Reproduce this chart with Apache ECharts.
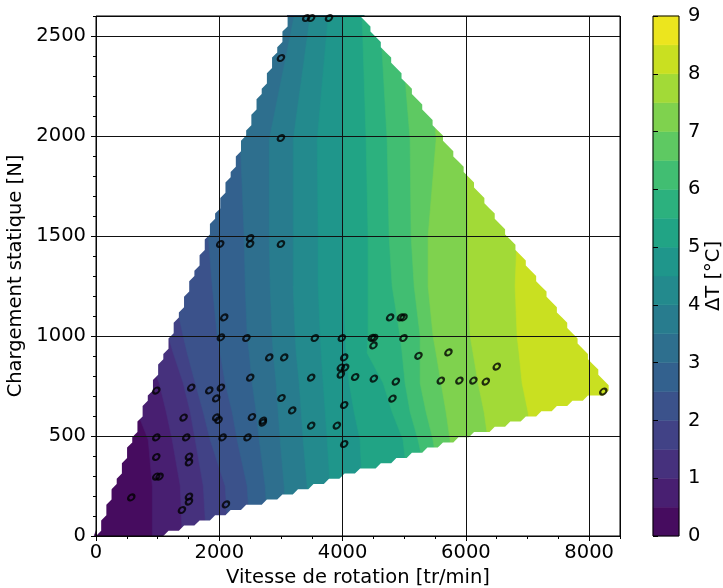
<!DOCTYPE html>
<html><head><meta charset="utf-8">
<script src="https://cdn.jsdelivr.net/npm/echarts@6/dist/echarts.min.js"></script>
<style>html,body{margin:0;padding:0;background:#fff}#c{width:723px;height:588px}</style>
</head><body><div id="c"></div>
<script>
// ---- data ----
const speedX = [3410,3490,3780,3000,3000,2015,2500,2500,3000,2080,2026,2440,3550,3988,4475,4512,4501,4988,4771,4945,4988,5231,2810,3053,4026,3972,4042,3972,2502,3491,4204,4507,4864,3009,4809,3183,4026,2529,2707,2707,3491,3907,2458,4026,5717,6501,5593,5895,6122,6323,8229,978,1545,1837,2026,1950,1421,1950,1988,978,1464,2053,978,1508,1508,978,1031,572,1508,1508,1394,2108];
const loadY  = [2590,2590,2590,2390,1990,1460,1490,1460,1460,1093,993,990,990,990,991,991,953,990,1093,1093,1093,901,893,893,893,842,842,807,792,792,795,787,772,690,687,628,655,595,577,567,552,552,493,460,918,847,777,777,777,772,722,727,742,728,742,688,592,593,580,493,493,493,395,397,368,297,297,193,197,172,130,158];
const levels = [0,0.5,1,1.5,2,2.5,3,3.5,4,4.5,5,5.5,6,6.5,7,7.5,8,8.5,9];
const isoLevels = [0.5,1,1.5,2,2.5,3,3.5,4,4.5,5,5.5,6,6.5,7,7.5,8];
// iso-line positions: speed (x) of each level line at these loads (y)
const isoY = [0,250,480,620,765,915,1000,1250,1500,1980,2600];
const isoX = [
 [913,913,848,670,459,199,70,-255,-579,-903,-1389],
 [1399,1367,1237,1140,1026,816,718,394,70,-417,-1065],
 [1788,1740,1610,1529,1415,1253,1172,880,556,70,-741],
 [2145,2096,1853,1740,1610,1480,1415,1237,1042,556,-255],
 [2502,2453,2291,2210,2096,2015,1967,1886,1821,1529,880],
 [2793,2745,2648,2599,2534,2485,2453,2421,2404,2340,2015],
 [3102,3053,2988,2956,2923,2875,2858,2826,2810,2810,3215],
 [3474,3426,3361,3329,3296,3248,3231,3199,3199,3199,3474],
 [3847,3799,3750,3718,3685,3653,3637,3604,3604,3588,3766],
 [4317,4317,4285,4188,4107,4058,4042,4010,4010,3993,4010],
 [5096,5063,4982,4804,4658,4399,4414,4414,4414,4382,4317],
 [5420,5388,5225,5096,5014,4966,4933,4804,4755,4723,4609],
 [5582,5582,5468,5355,5258,5258,5258,5161,5112,5096,4933],
 [5825,5793,5744,5679,5598,5517,5468,5388,5388,5517,5420],
 [6393,6393,6361,6296,6199,6117,6069,6036,6036,6020,5906],
 [7123,7123,7074,7009,6912,6863,6831,6799,6831,6880,6880]
];
const hullX = [-30, 1110, 8400, 4350, 3100];
const hullY = [0, 0, 718, 2600, 2600];
// interpolation grid step (data units) that produces the stair-stepped edge
const gridStepX = 84, gridStepY = 26;

// ---- helpers ----
const FONT = 'DejaVu Sans';
const viridisStops = ["#440154","#481568","#482677","#453781","#3F4788","#39558C","#32648E","#2D718E","#287D8E","#238A8D","#1F968B","#20A386","#29AF7F","#3CBC75","#56C667","#75D054","#95D840","#BADE28","#DDE318","#FDE725"];
function hex(c){return [parseInt(c.slice(1,3),16),parseInt(c.slice(3,5),16),parseInt(c.slice(5,7),16)];}
function viridis(t){
  t=Math.max(0,Math.min(1,t));
  const p=t*(viridisStops.length-1), i=Math.min(Math.floor(p),viridisStops.length-2), f=p-i;
  const a=hex(viridisStops[i]), b=hex(viridisStops[i+1]);
  return 'rgb('+a.map((v,k)=>Math.round(v+(b[k]-v)*f)).join(',')+')';
}
const nBands = levels.length-1;
function bandColor(k){ return viridis((k+0.5)/nBands); }

const hull = hullX.map((x,i)=>[x,hullY[i]]);
function insideHull(p){
  for(let i=0;i<hull.length;i++){
    const a=hull[i], b=hull[(i+1)%hull.length];
    const ex=(b[0]-a[0])/8500, ey=(b[1]-a[1])/2600, px=(p[0]-a[0])/8500, py=(p[1]-a[1])/2600;
    if(ex*py-ey*px < -1e-9) return false;
  }
  return true;
}
function clipPoly(subject, clip){
  let out = subject;
  for (let i=0;i<clip.length;i++){
    const a=clip[i], b=clip[(i+1)%clip.length];
    const inp=out; out=[];
    if(!inp.length) break;
    const inside=p=>(b[0]-a[0])*(p[1]-a[1])-(b[1]-a[1])*(p[0]-a[0])>=0;
    const inter=(p,q)=>{
      const x1=p[0],y1=p[1],x2=q[0],y2=q[1],x3=a[0],y3=a[1],x4=b[0],y4=b[1];
      const den=(x1-x2)*(y3-y4)-(y1-y2)*(x3-x4);
      const t=((x1-x3)*(y3-y4)-(y1-y3)*(x3-x4))/den;
      return [x1+t*(x2-x1),y1+t*(y2-y1)];
    };
    for(let j=0;j<inp.length;j++){
      const cur=inp[j], prev=inp[(j+inp.length-1)%inp.length];
      const ci=inside(cur), pi=inside(prev);
      if(ci){ if(!pi) out.push(inter(prev,cur)); out.push(cur); }
      else if(pi) out.push(inter(prev,cur));
    }
  }
  return out;
}
function regionAbove(i){
  const xs=isoX[i], n=xs.length;
  const pts=[[xs[0],-2000]];
  for(let j=0;j<n;j++) pts.push([xs[j],isoY[j]]);
  pts.push([xs[n-1],5000],[60000,5000],[60000,-2000]);
  return pts;
}
// stair-stepped outline of the valid interpolation grid (data coords)
function stairOutline(){
  const nI=Math.ceil(8500/gridStepX), nJ=Math.round(2600/gridStepY);
  const L=[],R=[];
  for(let j=0;j<=nJ;j++){
    let l=null,r=null;
    for(let i=0;i<=nI;i++){ if(insideHull([i*gridStepX,j*gridStepY])){ if(l===null) l=i; r=i; } }
    L.push(l); R.push(r);
  }
  const right=[], left=[];
  for(let j=0;j<nJ;j++){
    if(L[j]===null||L[j+1]===null) continue;
    const rb=Math.min(R[j],R[j+1]+1), rt=Math.min(R[j+1],R[j]+1);
    const lb=Math.max(L[j],L[j+1]-1), lt=Math.max(L[j+1],L[j]-1);
    if(rb<lb && rt<lt) continue;
    right.push([rb*gridStepX,j*gridStepY],[rt*gridStepX,(j+1)*gridStepY]);
    left.push([lb*gridStepX,j*gridStepY],[lt*gridStepX,(j+1)*gridStepY]);
  }
  return right.concat(left.reverse());
}
const stair = stairOutline();

const chart = echarts.init(document.getElementById('c'), null, {renderer:'canvas'});
const axisTxt = {fontFamily:FONT,fontSize:19.5,color:'#000'};
const plain = v => String(v);
function area(pts){ let s=0; for(let i=0;i<pts.length;i++){const a=pts[i],b=pts[(i+1)%pts.length]; s+=a[0]*b[1]-b[0]*a[1];} return s; }
const option = {
  animation:false,
  backgroundColor:'#fff',
  grid:[
    {left:96, top:16, width:524, height:520, show:true, borderColor:'#000', borderWidth:1, backgroundColor:'transparent', z:10, containLabel:false, outerBoundsMode:'none'},
    {left:653, top:16, width:26, height:520, show:true, borderColor:'#000', borderWidth:1, backgroundColor:'transparent', z:10, containLabel:false, outerBoundsMode:'none'}
  ],
  xAxis:[
    {gridIndex:0, type:'value', min:0, max:8500, interval:2000, z:6,
     name:'Vitesse de rotation [tr/min]', nameLocation:'middle', nameGap:29, nameTextStyle:axisTxt,
     axisLine:{show:false}, axisTick:{show:true,length:5,lineStyle:{color:'#000',width:1}},
     axisLabel:Object.assign({margin:7, showMaxLabel:false, formatter:plain}, axisTxt),
     splitLine:{show:true, lineStyle:{color:'#111', width:1}}},
    {gridIndex:0, type:'value', min:0, max:8500, interval:500, position:'bottom', z:6,
     axisLine:{show:false}, axisTick:{show:true,length:3,lineStyle:{color:'#000',width:1}},
     axisLabel:{show:false}, splitLine:{show:false}},
    {gridIndex:1, type:'value', min:0, max:1, show:false}
  ],
  yAxis:[
    {gridIndex:0, type:'value', min:0, max:2600, interval:500, z:6,
     name:'Chargement statique [N]', nameLocation:'middle', nameGap:64, nameTextStyle:axisTxt,
     axisLine:{show:false}, axisTick:{show:true,length:5,lineStyle:{color:'#000',width:1}},
     axisLabel:Object.assign({margin:10, showMaxLabel:false, formatter:plain}, axisTxt),
     splitLine:{show:true, lineStyle:{color:'#111', width:1}}},
    {gridIndex:0, type:'value', min:0, max:2600, interval:100, position:'left', z:6,
     axisLine:{show:false}, axisTick:{show:true,length:3,lineStyle:{color:'#000',width:1}},
     axisLabel:{show:false}, splitLine:{show:false}},
    {gridIndex:1, type:'value', min:0, max:9, interval:1, position:'right', z:6,
     name:'ΔT [°C]', nameLocation:'middle', nameGap:21, nameRotate:90, nameTextStyle:axisTxt,
     axisLine:{show:false}, axisTick:{show:true,length:5,lineStyle:{color:'#000',width:1}},
     axisLabel:Object.assign({margin:9, formatter:plain}, axisTxt),
     splitLine:{show:false}}
  ],
  series:[
    {type:'custom', coordinateSystem:'cartesian2d', xAxisIndex:0, yAxisIndex:0, z:1, silent:true,
     data: [0].concat(isoLevels.map((l,i)=>i+1)).map(k=>[k]),
     renderItem:function(params, api){
       const k = api.value(0);
       const poly = k===0 ? hull.slice() : clipPoly(regionAbove(k-1), hull);
       if(poly.length<3) return null;
       const pts = poly.map(p=>api.coord(p));
       const c = bandColor(k);
       return {type:'polygon', shape:{points:pts}, style:{fill:c, stroke:c, lineWidth:0.6}};
     }},
    {type:'custom', coordinateSystem:'cartesian2d', xAxisIndex:0, yAxisIndex:0, z:2, silent:true,
     data:[[0]],
     renderItem:function(params, api){
       const a=api.coord([0,2600]), b=api.coord([8500,0]);
       const outer=[[a[0],a[1]],[b[0],a[1]],[b[0],b[1]],[a[0],b[1]]];
       let inner=stair.map(p=>api.coord(p));
       if(Math.sign(area(inner))===Math.sign(area(outer))) inner=inner.slice().reverse();
       const toPath=pts=>'M'+pts.map(p=>p[0].toFixed(2)+' '+p[1].toFixed(2)).join('L')+'Z';
       return {type:'path', shape:{pathData: toPath(outer)+toPath(inner)}, style:{fill:'#fff', stroke:null}};
     }},
    {type:'custom', coordinateSystem:'cartesian2d', xAxisIndex:2, yAxisIndex:2, z:1, silent:true,
     data: levels.slice(0,-1).map((l,i)=>[i, l, levels[i+1]]),
     renderItem:function(params, api){
       const k=api.value(0), lo=api.value(1), hi=api.value(2);
       const p0=api.coord([0,lo]), p1=api.coord([1,hi]);
       const c=bandColor(k);
       return {type:'rect', shape:{x:p0[0], y:p1[1], width:p1[0]-p0[0], height:p0[1]-p1[1]}, style:{fill:c, stroke:c, lineWidth:0.5}};
     },
     encode:{x:-1, y:[1,2]}},
    {type:'scatter', xAxisIndex:0, yAxisIndex:0, z:8, silent:true,
     data: speedX.map((x,i)=>[x, loadY[i]]),
     symbol:'circle', symbolSize:[7,5.2], symbolRotate:40,
     itemStyle:{color:'rgba(0,0,0,0)', borderColor:'#000', borderWidth:2.2}}
  ]
};
chart.setOption(option);
</script>
</body></html>
